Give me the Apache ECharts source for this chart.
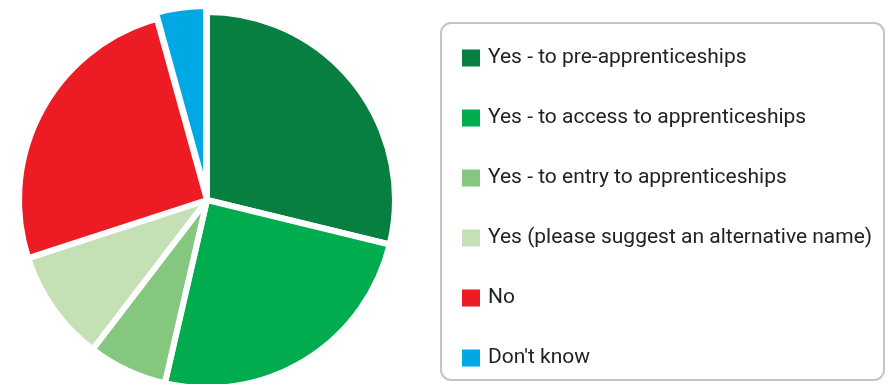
<!DOCTYPE html>
<html><head><meta charset="utf-8">
<script src="https://cdn.jsdelivr.net/npm/echarts@6/dist/echarts.min.js"></script>
<style>html,body{margin:0;padding:0;background:#fff}#c{width:893px;height:384px}</style>
</head><body><div id="c"></div>
<script>
const categories = ["Yes - to pre-apprenticeships","Yes - to access to apprenticeships","Yes - to entry to apprenticeships","Yes (please suggest an alternative name)","No","Don't know"];
const values = [28.8, 24.8, 6.8, 9.6, 25.7, 4.3];
const colors = ["#077f41","#00ac4e","#85c77f","#c5e0b4","#ed1c24","#00a9e4"];

const chart = echarts.init(document.getElementById('c'));
chart.setOption({
  animation:false,
  graphic:[{type:'rect',shape:{x:441,y:23,width:443,height:357,r:10},style:{fill:'#fff',stroke:'#c4c4c4',lineWidth:2},z:-1}],
  legend:{orient:'vertical',left:455,top:41,height:340,itemWidth:20,itemHeight:19,itemGap:36,icon:'rect',
    textStyle:{fontFamily:'Roboto',fontSize:21,color:'#222',padding:[0,0,0,2],lineHeight:24},
    data:categories},
  series:[{type:'pie',center:[207,200],radius:188,startAngle:90,clockwise:true,
    label:{show:false},labelLine:{show:false},
    selectedMode:'multiple',selectedOffset:6,
    itemStyle:{borderColor:'#fff',borderWidth:6},
    data:categories.map((n,i)=>({name:n,value:values[i],selected:i===5,itemStyle:{color:colors[i]}}))}]
});
</script></body></html>
